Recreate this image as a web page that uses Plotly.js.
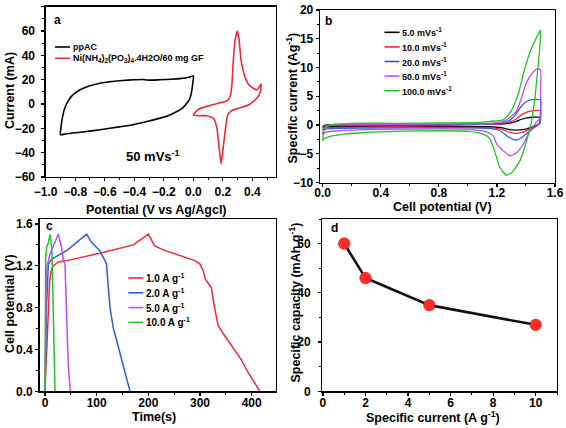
<!DOCTYPE html>
<html>
<head>
<meta charset="utf-8">
<script src="https://cdn.plot.ly/plotly-3.0.1.min.js"></script>
<style>html,body{margin:0;padding:0;background:#fff}#plot{width:566px;height:428px}</style>
</head>
<body>
<div id="plot"></div>
<script>
// ---------------- DATA ----------------
// Panel a: CV at 50 mV/s
const aPpacV = [-0.9,-0.895,-0.885,-0.87,-0.85,-0.824,-0.79,-0.745,-0.7,-0.632,-0.55,-0.48,-0.406,-0.35,-0.315,-0.28,-0.225,-0.15,-0.089,-0.03,0.0,
  -0.005,-0.012,-0.025,-0.044,-0.075,-0.112,-0.16,-0.225,-0.3,-0.406,-0.5,-0.632,-0.75,-0.858,-0.9];
const aPpacI = [-25.3,-18,-10,-3,2,6.5,10,13,15,17.1,18.5,19.3,19.9,20.2,19.8,19.6,19.9,20.3,20.9,22,23.1,
  16,10,4,0.7,-3.5,-6.2,-9,-11.6,-14,-17,-18.8,-21.1,-23,-24.4,-25.3];
const aNiV = [0.0,0.034,0.10,0.169,0.226,0.249,0.26,0.271,0.283,0.298,0.31,0.323,0.346,0.377,0.407,0.43,0.459,
  0.454,0.43,0.373,0.305,0.26,0.233,0.22,0.203,0.188,0.174,0.158,0.136,0.091,0.034,0.0];
const aNiI = [-9.0,-4.4,-1.6,0.6,2.5,6,14.2,36.2,52.6,60,52.6,36.2,23.8,15.6,12.9,11.5,16.4,
  10.1,4.7,-0.8,-3.5,-5.5,-9,-18.6,-35,-49.3,-35,-18.6,-11.8,-9.6,-9.6,-9.0];
const aNames = ['ppAC', 'Ni(NH<sub>4</sub>)<sub>2</sub>(PO<sub>3</sub>)<sub>4</sub>.4H2O/60 mg GF'];
const aXTitle = 'Potential (V vs Ag/Agcl)', aYTitle = 'Current (mA)';

// Panel b: CV at different scan rates
const bNames = ['5.0 mVs<sup>-1</sup>','10.0 mVs<sup>-1</sup>','20.0 mVs<sup>-1</sup>','50.0 mVs<sup>-1</sup>','100.0 mVs<sup>-1</sup>'];
const bV5 = [0,0.02,0.1,0.6,1.1,1.22,1.28,1.33,1.37,1.41,1.45,1.5, 1.5,1.49,1.46,1.42,1.38,1.33,1.28,1.23,1.15,1.0,0.5,0.1,0.02,0];
const bI5 = [-0.3,0.0,0.05,0.05,0.1,0.15,0.3,0.6,1.0,1.25,1.35,1.35, 0.9,0.2,-0.2,-0.55,-0.8,-0.88,-0.75,-0.45,-0.3,-0.25,-0.2,-0.25,-0.28,-0.3];
const bV10 = [0,0.02,0.1,0.6,1.1,1.22,1.28,1.33,1.37,1.41,1.45,1.5, 1.5,1.495,1.46,1.42,1.37,1.33,1.29,1.24,1.18,1.0,0.5,0.1,0.02,0];
const bI10 = [-0.5,-0.1,0.0,0.05,0.1,0.2,0.45,1.0,1.8,2.3,2.5,2.5, 1.5,0.3,-0.3,-0.8,-1.3,-1.45,-1.3,-0.8,-0.5,-0.4,-0.35,-0.4,-0.45,-0.5];
const bV20 = [0,0.02,0.1,0.6,1.1,1.22,1.28,1.32,1.36,1.4,1.44,1.5, 1.5,1.495,1.46,1.42,1.38,1.34,1.31,1.27,1.22,1.15,1.0,0.5,0.1,0.02,0];
const bI20 = [-0.8,-0.2,0.0,0.05,0.15,0.3,0.7,1.5,3.0,4.0,4.4,4.4, 2.5,0.3,-0.4,-1.2,-2.0,-2.6,-2.5,-1.9,-1.0,-0.6,-0.5,-0.5,-0.6,-0.7,-0.8];
const bV50 = [0,0.01,0.04,0.1,0.5,1.0,1.15,1.244,1.29,1.336,1.37,1.405,1.44,1.474,1.5, 1.5,1.5,1.462,1.416,1.382,1.336,1.29,1.244,1.198,1.175,1.13,1.0,0.6,0.3,0.1,0.02,0];
const bI50 = [-1.6,-0.6,-0.1,0.05,0.1,0.2,0.3,0.6,1.3,2.5,4.8,7.5,8.9,9.7,9.6, 6,1.3,0.2,-1.6,-3.3,-4.8,-5.35,-4.5,-3.3,-1.9,-1.2,-0.75,-0.7,-0.8,-1.0,-1.3,-1.6];
const bV100 = [0,0.01,0.03,0.08,0.2,0.5,0.8,1.0,1.1,1.18,1.244,1.30,1.347,1.382,1.428,1.474,1.50,
  1.497,1.485,1.462,1.44,1.405,1.359,1.302,1.263,1.221,1.187,1.152,1.107,1.0,0.8,0.5,0.3,0.15,0.05,0.01,0];
const bI100 = [-2.7,-1.0,-0.2,0.15,0.3,0.3,0.35,0.4,0.5,0.7,0.9,2.5,5.4,8.9,12.7,15.3,16.5,
  14,10.7,4.8,0.8,-2.7,-6.2,-8.3,-8.7,-7.4,-4.8,-2.4,-1.6,-1.1,-1.0,-1.1,-1.3,-1.6,-2.0,-2.4,-2.7];
const bXTitle = 'Cell potential (V)', bYTitle = 'Specific current (Ag<sup>-1</sup>)';

// Panel c: charge-discharge
const cNames = ['1.0 A g<sup>-1</sup>','2.0 A g<sup>-1</sup>','5.0 A g<sup>-1</sup>','10.0 A g<sup>-1</sup>'];
const cT1 = [0,3,6,9,12,16,25,42,106,171,200, 205,212,230,260,290,300,306,310,316,322,328,335,345,364,380,393,403,410,416];
const cV1 = [0,0.35,0.72,1.05,1.15,1.2,1.235,1.25,1.32,1.40,1.504, 1.45,1.39,1.35,1.30,1.25,1.217,1.154,1.074,1.03,0.99,0.80,0.63,0.55,0.42,0.30,0.18,0.10,0.05,0];
const cT2 = [0,3,6.5,13,42,80.6, 90,106,116,119,122.6,125.8,132,142,151.6,158,164.5];
const cV2 = [0,0.8,1.217,1.265,1.345,1.504, 1.425,1.345,1.25,1.217,0.994,0.803,0.61,0.42,0.26,0.134,0];
const cT5 = [0,1.5,3.2,9.7,16,25.8, 32,35.5,38.7,42,45,49];
const cV5 = [0,0.7,1.185,1.31,1.39,1.504, 1.377,1.25,1.217,0.73,0.255,0];
const cT10 = [0,0.8,1.3,3.2,6.5,9.7, 13,14.8,17.4,19.4];
const cV10 = [0,0.8,1.28,1.377,1.42,1.5, 1.377,1.06,0.42,0];
const cXTitle = 'Time(s)', cYTitle = 'Cell potential (V)';

// Panel d: rate capability
const dCurrent = [1,2,5,10];
const dCapacity = [60,46,35,27];
const dXTitle = 'Specific current (A g<sup>-1</sup>)', dYTitle = 'Specific capacity (mAh g<sup>-1</sup>)';

// ---------------- STYLE ----------------
const FONT = 'Liberation Sans, Arial, sans-serif';
const W = 566, H = 428;
const px = x => x / W;
const py = y => 1 - y / H;
const RED = '#f0283c', BLUE = '#2f5fd0', PURPLE = '#c04cf0', GREEN = '#22c322', BLACK = '#000000';

function axis(o) {
  return Object.assign({
    showline: true, mirror: true, linecolor: '#000', linewidth: 1.3,
    ticks: 'outside', ticklen: 3, tickwidth: 1.2, tickcolor: '#000',
    showgrid: false, zeroline: false, fixedrange: true,
    tickfont: {family: FONT, size: 12, color: '#000', weight: 'bold'},
  }, o);
}
const minor = d => ({dtick: d, ticklen: 2, tickwidth: 1, tickcolor: '#000', ticks: 'outside'});
const line = (c, w) => ({color: c, width: w, shape: 'spline', smoothing: 0.5});

const traces = [
  {x: aPpacV, y: aPpacI, xaxis: 'x', yaxis: 'y', mode: 'lines', line: line(BLACK, 1.6)},
  {x: aNiV, y: aNiI, xaxis: 'x', yaxis: 'y', mode: 'lines', line: line(RED, 1.6)},
  {x: bV5, y: bI5, xaxis: 'x2', yaxis: 'y2', mode: 'lines', line: line(BLACK, 1.3)},
  {x: bV10, y: bI10, xaxis: 'x2', yaxis: 'y2', mode: 'lines', line: line(RED, 1.3)},
  {x: bV20, y: bI20, xaxis: 'x2', yaxis: 'y2', mode: 'lines', line: line(BLUE, 1.3)},
  {x: bV50, y: bI50, xaxis: 'x2', yaxis: 'y2', mode: 'lines', line: line(PURPLE, 1.3)},
  {x: bV100, y: bI100, xaxis: 'x2', yaxis: 'y2', mode: 'lines', line: line(GREEN, 1.3)},
  {x: cT1, y: cV1, xaxis: 'x3', yaxis: 'y3', mode: 'lines', line: {color: RED, width: 1.5}},
  {x: cT2, y: cV2, xaxis: 'x3', yaxis: 'y3', mode: 'lines', line: {color: BLUE, width: 1.5}},
  {x: cT5, y: cV5, xaxis: 'x3', yaxis: 'y3', mode: 'lines', line: {color: PURPLE, width: 1.5}},
  {x: cT10, y: cV10, xaxis: 'x3', yaxis: 'y3', mode: 'lines', line: {color: GREEN, width: 1.5}},
  {x: dCurrent, y: dCapacity, xaxis: 'x4', yaxis: 'y4', mode: 'lines+markers',
   line: {color: '#111', width: 2.6}, marker: {size: 11.5, color: '#ff2b2b', line: {color: '#d01010', width: 0.6}}},
];

const shapes = [], annotations = [];
// manual legends (key lines + labels)
function legend(names, colors, x0, x1, tx, y0, dy, size) {
  names.forEach((n, i) => {
    const y = py(y0 + i * dy);
    shapes.push({type: 'line', xref: 'paper', yref: 'paper', x0: px(x0), x1: px(x1), y0: y, y1: y, line: {color: colors[i], width: 1.6}});
    annotations.push({xref: 'paper', yref: 'paper', x: px(tx), y: y, xanchor: 'left', yanchor: 'middle', showarrow: false,
      text: n, font: {family: FONT, size: size, color: '#000', weight: 'bold'}});
  });
}
legend(aNames, [BLACK, RED], 55, 70, 71, 47, 11.3, 9);
legend(bNames, [BLACK, RED, BLUE, PURPLE, GREEN], 384.5, 399.5, 400, 32.3, 14.6, 9);
legend(cNames, [RED, BLUE, PURPLE, GREEN], 128.3, 143.3, 143.5, 278, 14.8, 10);

function label(t, x, y, size, angle) {
  annotations.push({xref: 'paper', yref: 'paper', x: px(x), y: py(y), xanchor: 'center', yanchor: 'middle', showarrow: false,
    textangle: angle || 0, text: t, font: {family: FONT, size: size, color: '#000', weight: 'bold'}});
}
// panel letters and note
label('a', 57, 20, 12);
label('b', 328, 21, 12);
label('c', 49, 226, 12);
label('d', 334, 228, 12);
label('50 mVs<sup>-1</sup>', 153, 156, 13);
// axis titles
label(aXTitle, 156, 210, 12.5);
label(aYTitle, 10, 91, 12.5, -90);
label(bXTitle, 442, 207, 12.5);
label(bYTitle, 291.5, 98, 12.5, -90);
label(cXTitle, 154, 417, 12.5);
label(cYTitle, 10, 304, 12.5, -90);
label(dXTitle, 433, 417, 12.5);
label(dYTitle, 294.5, 303, 12.5, -90);

const layout = {
  width: W, height: H, margin: {l: 0, r: 0, t: 0, b: 0},
  paper_bgcolor: '#fff', plot_bgcolor: '#fff', showlegend: false,
  font: {family: FONT, color: '#000'},
  xaxis: axis({domain: [px(45.7), px(276)], anchor: 'y', range: [-1.0, 0.56], dtick: 0.2, tick0: 0, tickformat: '.1f',
    minor: minor(0.1), ticklabelstandoff: 0}),
  yaxis: axis({domain: [py(177), py(6.7)], anchor: 'x', range: [-60, 80], dtick: 20, minor: minor(10),
    ticklabelstandoff: 4}),
  xaxis2: axis({domain: [px(320), px(555)], anchor: 'y2', range: [-0.0186, 1.6], dtick: 0.4, tick0: 0, tickformat: '.1f',
    minor: minor(0.2), ticklabelstandoff: -4}),
  yaxis2: axis({domain: [py(182.5), py(10)], anchor: 'x2', range: [-10, 20], dtick: 5, minor: minor(2.5)}),
  xaxis3: axis({domain: [px(39.5), px(276)], anchor: 'y3', range: [-10.6, 447], dtick: 100, minor: minor(50),
    ticklabelstandoff: -3}),
  yaxis3: axis({domain: [py(391.3), py(219)], anchor: 'x3', range: [0, 1.648], dtick: 0.4, tickformat: '.1f', minor: minor(0.2)}),
  xaxis4: axis({domain: [px(322.3), px(557)], anchor: 'y4', range: [-0.03, 11.0], dtick: 2, minor: minor(1),
    ticklabelstandoff: -3}),
  yaxis4: axis({domain: [py(391.3), py(219)], anchor: 'x4', range: [0, 70], dtick: 20, minor: minor(10),
    ticklabelstandoff: 5}),
  shapes: shapes, annotations: annotations,
};

Plotly.newPlot('plot', traces, layout, {staticPlot: true, displayModeBar: false});
</script>
</body>
</html>
